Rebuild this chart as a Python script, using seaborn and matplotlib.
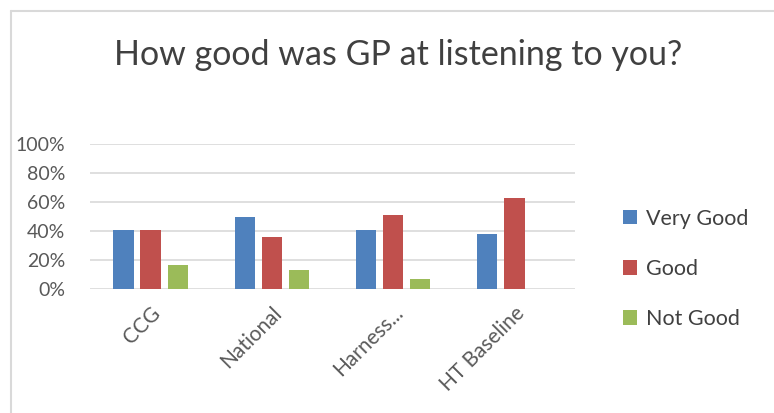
import matplotlib.pyplot as plt
import pandas as pd
import seaborn as sns
from matplotlib.lines import Line2D
from matplotlib.ticker import PercentFormatter

categories = ['CCG', 'National', 'Harness...', 'HT Baseline']
very_good = [0.41, 0.50, 0.41, 0.38]
good = [0.41, 0.36, 0.51, 0.625]
not_good = [0.165, 0.13, 0.067, 0.0]
series = ['Very Good', 'Good', 'Not Good']
colors = ['#4F81BD', '#C0504D', '#9BBB59']

df = pd.DataFrame({'category': categories, 'Very Good': very_good,
                   'Good': good, 'Not Good': not_good})
long_df = df.melt(id_vars='category', var_name='series', value_name='share')

sns.set_style('white')
plt.rcParams['font.family'] = ['Lato', 'DejaVu Sans']

fig = plt.figure(figsize=(7.74, 4.13), dpi=100)
ax = fig.add_axes([90 / 774, 1 - 289 / 413, 485 / 774, 145 / 413])

sns.barplot(data=long_df, x='category', y='share', hue='series',
            hue_order=series, palette=colors, order=categories,
            width=0.67, gap=0.25, saturation=1, linewidth=0, ax=ax)

ax.set_ylim(0, 1)
ax.set_yticks([0, 0.2, 0.4, 0.6, 0.8, 1.0])
ax.yaxis.set_major_formatter(PercentFormatter(1.0, decimals=0))
ax.grid(axis='y', color='#D9D9D9', linewidth=1.2)
ax.set_axisbelow(True)
for s in ['top', 'right', 'left', 'bottom']:
    ax.spines[s].set_visible(False)
ax.set_xlabel('')
ax.set_ylabel('')
ax.tick_params(axis='y', labelsize=14, labelcolor='#595959', length=0, pad=18)
ax.tick_params(axis='x', labelsize=15, labelcolor='#595959', length=0, pad=10)
plt.setp(ax.get_xticklabels(), rotation=45, ha='right', rotation_mode='anchor')

handles, labels = ax.get_legend_handles_labels()
ax.legend(handles, labels, loc='center left', bbox_to_anchor=(612 / 774, 1 - 269 / 413),
          bbox_transform=fig.transFigure, frameon=False, fontsize=15.5,
          labelspacing=1.4, handlelength=0.65, handleheight=0.65, handletextpad=0.45,
          labelcolor='#404040', borderpad=0)

fig.text(398 / 774, 1 - 55 / 413, 'How good was GP at listening to you?',
         ha='center', va='center', fontsize=24.5, color='#404040')

fig.add_artist(Line2D([11 / 774, 11 / 774], [0, 1 - 11 / 413], color='#D9D9D9', linewidth=1.5))
fig.add_artist(Line2D([11 / 774, 1], [1 - 11 / 413, 1 - 11 / 413], color='#D9D9D9', linewidth=1.5))

fig.savefig('out.png', dpi=100)
